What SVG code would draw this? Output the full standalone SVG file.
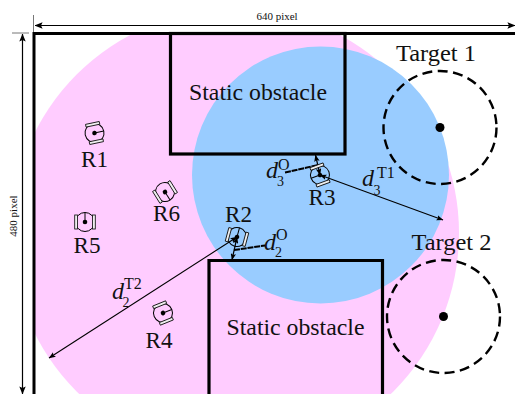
<svg xmlns="http://www.w3.org/2000/svg" width="515" height="394" viewBox="0 0 515 394">
<style>
text{font-family:"Liberation Serif","Times New Roman",serif;fill:#111}
.lab{font-size:24px;text-anchor:middle}
.ob{font-size:24px;text-anchor:middle}
.d{font-size:24px;font-style:italic}
.sb{font-size:14px}
.sp{font-size:16px}
.dim{font-size:11px;text-anchor:middle}
.obst{fill:none;stroke:#000;stroke-width:3.2}
.tc{fill:none;stroke:#000;stroke-width:2.4;stroke-dasharray:10 5.5}
.c{fill:none;stroke:#000;stroke-width:1.1}
.dash{fill:none;stroke:#000;stroke-width:2;stroke-dasharray:6 .8}
.dl{fill:none;stroke:#000;stroke-width:1.2}
</style>
<defs>
<marker id="a" viewBox="0 0 10 8" refX="9.500" refY="4" markerWidth="7" markerHeight="5.500" markerUnits="userSpaceOnUse" orient="auto-start-reverse"><path d="M0 0L10 4L0 8L2 4Z" fill="#000"/></marker>
<marker id="b" viewBox="0 0 10 8" refX="9.500" refY="4" markerWidth="8" markerHeight="6.400" markerUnits="userSpaceOnUse" orient="auto-start-reverse"><path d="M0 0L10 4L0 8L2 4Z" fill="#000"/></marker>
<g id="robot">
<circle r="9.500" fill="none" stroke="#000" stroke-width="1"/>
<rect x="-7" y="-10.300" width="14" height="2.800" fill="#eee" stroke="#111" stroke-width=".85"/>
<rect x="-7" y="7.500" width="14" height="2.800" fill="#eee" stroke="#111" stroke-width=".85"/>
<circle r="2.300" fill="#000"/>
<path d="M0 0H9.500" stroke="#000" stroke-width="1"/>
</g>
</defs>
<g id="regions">
<circle cx="235" cy="233" r="224" fill="#ffccff"/>
<circle cx="320.500" cy="175" r="128.500" fill="#99ccff"/>
<rect x="0" y="0" width="33" height="394" fill="#fff"/>
<rect x="0" y="0" width="515" height="32" fill="#fff"/>
</g>
<g id="frame">
<path d="M33.500 15V33M12 33H29" stroke="#777" stroke-width="1" fill="none"/>
<path d="M34 394V33.500H515" fill="none" stroke="#000" stroke-width="3"/>
<text class="dim" x="277" y="20">640 pixel</text>
<text class="dim" transform="translate(17 216) rotate(-90)">480 pixel</text>
</g>
<g id="obstacle-1"><rect class="obst" x="170.500" y="33.500" width="174.500" height="120.500"/><text class="ob" x="258" y="100" textLength="138" lengthAdjust="spacingAndGlyphs">Static obstacle</text></g>
<g id="obstacle-2"><path class="obst" d="M209 394V260.500H382.500V394"/><text class="ob" x="295.500" y="335" textLength="138" lengthAdjust="spacingAndGlyphs">Static obstacle</text></g>
<g id="target-1"><circle class="tc" cx="440" cy="127.500" r="56.500"/><circle cx="440" cy="127.500" r="4.500"/><text class="lab" x="436" y="61" textLength="80" lengthAdjust="spacingAndGlyphs">Target 1</text></g>
<g id="target-2"><circle class="tc" cx="443.500" cy="316.500" r="56.500"/><circle cx="443.500" cy="316.500" r="4.500"/><text class="lab" x="451.500" y="250" textLength="80" lengthAdjust="spacingAndGlyphs">Target 2</text></g>
<g id="connectors">
<path class="dl" d="M22.500 34V394" marker-start="url(#b)" marker-end="url(#b)"/>
<path class="dl" d="M35 25.500H515" marker-start="url(#b)" marker-end="url(#b)"/>
<path class="c" d="M320 175L443 220" marker-start="url(#a)" marker-end="url(#a)"/>
<path class="c" d="M237 237L49 358" marker-start="url(#a)" marker-end="url(#a)"/>
<path class="dl" d="M320 175L315.500 155" marker-start="url(#a)" marker-end="url(#a)"/>
<path class="dl" d="M237 237L232 260" marker-start="url(#a)" marker-end="url(#a)"/>
<path class="dash" d="M285 172.500L318 165"/>
<path class="dash" d="M234 250L265 245.500"/>
</g>
<g id="R1"><use href="#robot" transform="translate(94.500 133) rotate(-12)"/><text class="lab" x="94.500" y="167" textLength="27" lengthAdjust="spacingAndGlyphs">R1</text></g>
<g id="R2"><use href="#robot" transform="translate(237 237) rotate(-75)"/><text class="lab" x="238.500" y="222" textLength="27" lengthAdjust="spacingAndGlyphs">R2</text></g>
<g id="R3"><use href="#robot" transform="translate(320 175) rotate(160)"/><text class="lab" x="322" y="204.500" textLength="27" lengthAdjust="spacingAndGlyphs">R3</text></g>
<g id="R4"><use href="#robot" transform="translate(163 313) rotate(-22)"/><text class="lab" x="159" y="348" textLength="27" lengthAdjust="spacingAndGlyphs">R4</text></g>
<g id="R5"><use href="#robot" transform="translate(85 222) rotate(-90)"/><text class="lab" x="87" y="253" textLength="27" lengthAdjust="spacingAndGlyphs">R5</text></g>
<g id="R6"><use href="#robot" transform="translate(165 192) rotate(58)"/><text class="lab" x="166.500" y="221" textLength="27" lengthAdjust="spacingAndGlyphs">R6</text></g>
<g id="label-d3O"><text class="d" x="266" y="178">d</text><text class="sb" x="277" y="186">3</text><text class="sp" x="278" y="169.500">O</text></g>
<g id="label-d2O"><text class="d" x="264" y="250">d</text><text class="sb" x="275" y="257">2</text><text class="sp" x="276" y="240">O</text></g>
<g id="label-d3T1"><text class="d" x="362" y="186">d</text><text class="sb" x="373.500" y="195">3</text><text class="sp" x="377" y="178">T1</text></g>
<g id="label-d2T2"><text class="d" x="112" y="299">d</text><text class="sb" x="122.500" y="307">2</text><text class="sp" x="124" y="289">T2</text></g>
</svg>
